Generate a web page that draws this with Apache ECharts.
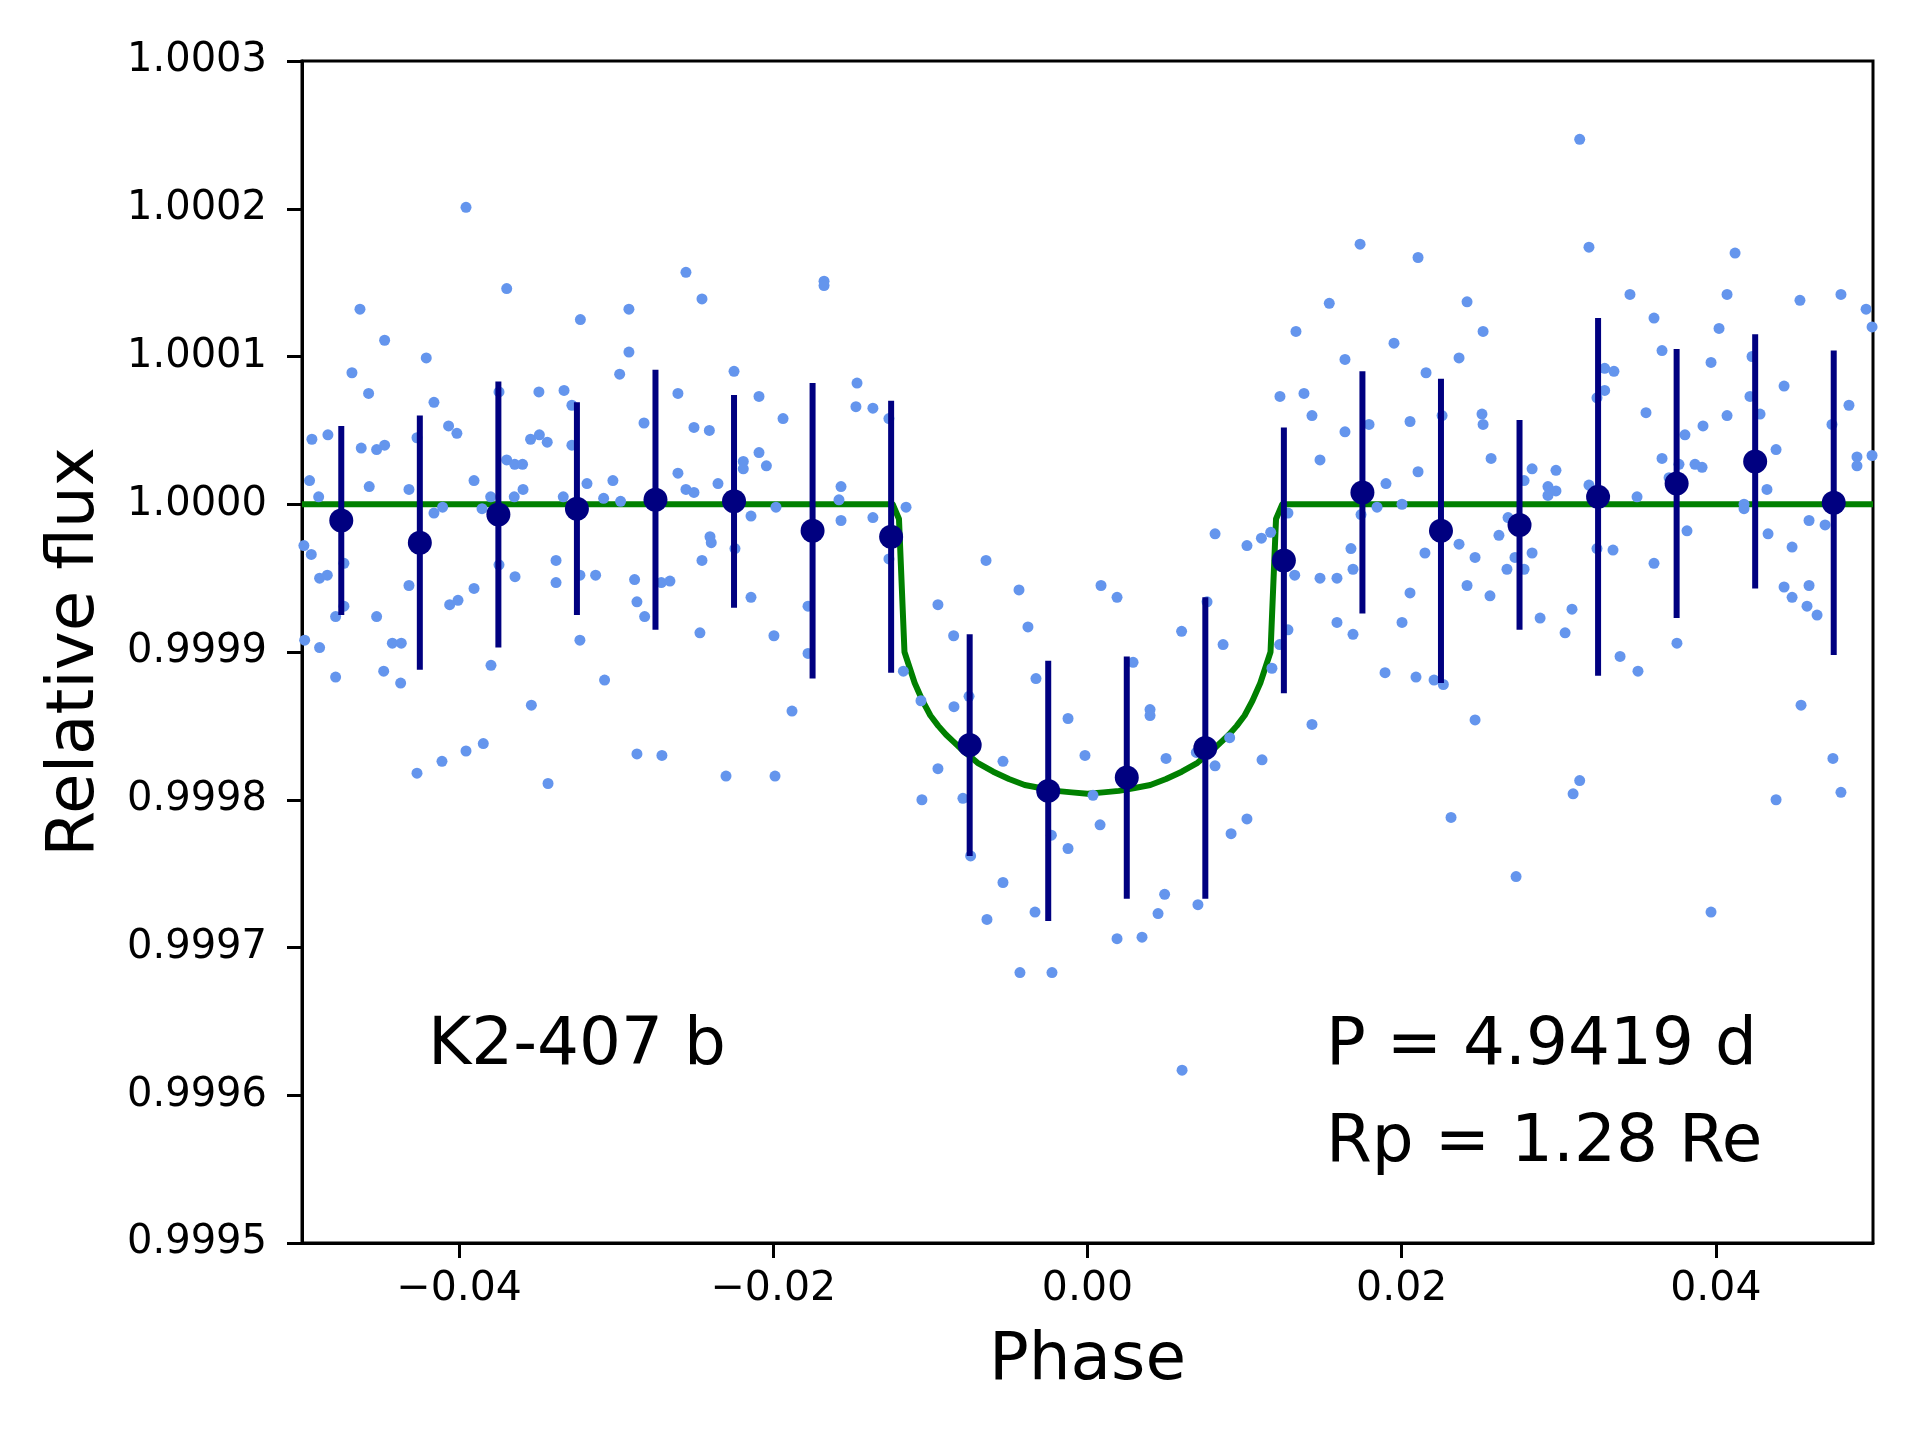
<!DOCTYPE html>
<html>
<head>
<meta charset="utf-8">
<title>K2-407 b</title>
<script src="https://cdn.jsdelivr.net/npm/echarts@6/dist/echarts.min.js"></script>
<style>
  html, body { margin: 0; padding: 0; background: #fff; }
  #chart { width: 1920px; height: 1440px; }
</style>
</head>
<body>
<div id="chart"></div>
<script>
// flux values are kept as ppm offsets from 1.0, the axis labels show relative flux
const xTicks = [-0.04, -0.02, 0.0, 0.02, 0.04];

// unbinned photometry [phase, ppm]
const samples = [
  [-0.04988, -28], [-0.04941, -34], [-0.04952, 16], [-0.04937, 44], [-0.04894, 5],
  [-0.04888, -50], [-0.04839, -48], [-0.04835, 47], [-0.04983, -92], [-0.04888, -97],
  [-0.04786, -117], [-0.04786, -76], [-0.04733, -40], [-0.04733, -69], [-0.04682, 89],
  [-0.04631, 132], [-0.04623, 38], [-0.04576, 75], [-0.04572, 12], [-0.04525, -76],
  [-0.04525, 37], [-0.04474, 40], [-0.04474, 111], [-0.04480, -113], [-0.04425, -94],
  [-0.04368, -94], [-0.04372, -121], [-0.04319, 10], [-0.04319, -55], [-0.04268, 45],
  [-0.04268, -182], [-0.04209, 99], [-0.04160, 69], [-0.04160, -6], [-0.04109, -174],
  [-0.04105, -2], [-0.04067, 53], [-0.04014, 48], [-0.04060, -68], [-0.04007, -65],
  [-0.03956, -167], [-0.03956, 201], [-0.03905, 16], [-0.03905, -57], [-0.03854, -3],
  [-0.03846, -162], [-0.03799, 5], [-0.03797, -109], [-0.03746, -41], [-0.03746, 76],
  [-0.03697, 146], [-0.03697, 30], [-0.03646, 27], [-0.03596, 27], [-0.03649, 5],
  [-0.03593, 10], [-0.03644, -49], [-0.03545, 44], [-0.03489, 47], [-0.03492, 76],
  [-0.03439, 42], [-0.03540, -136], [-0.03434, -189], [-0.03383, -38], [-0.03383, -53],
  [-0.03332, 77], [-0.03282, 67], [-0.03282, 40], [-0.03337, 5], [-0.03228, 125],
  [-0.03186, 14], [-0.03231, -48], [-0.03231, -92], [-0.03131, -48], [-0.03074, -119],
  [-0.03080, 4], [-0.03021, 16], [-0.02972, 2], [-0.02978, 88],
  [-0.02919, 132], [-0.02919, 103], [-0.02823, 55], [-0.02883, -51], [-0.02868, -66],
  [-0.02819, -76], [-0.02713, -53], [-0.02658, -52], [-0.02607, 75], [-0.02607, 21],
  [-0.02556, 157], [-0.02556, 10], [-0.02505, 52], [-0.02505, 8], [-0.02454, 139],
  [-0.02407, 50], [-0.02454, -38], [-0.02403, -22], [-0.02395, -26], [-0.02467, -87],
  [-0.02352, 14], [-0.02868, -169], [-0.02709, -170], [-0.02301, -184], [-0.02250, 90],
  [-0.02191, 29], [-0.02191, 24], [-0.02244, -30], [-0.02142, -8], [-0.02142, -63],
  [-0.02091, 73], [-0.02091, 35], [-0.02044, 26], [-0.01983, -2], [-0.01996, -89],
  [-0.01989, -184], [-0.01938, 58], [-0.01881, -140], [-0.01779, -69], [-0.01779, -101],
  [-0.01677, 151], [-0.01677, 148], [-0.01569, 12], [-0.01582, 3], [-0.01569, -11],
  [-0.01467, 82], [-0.01474, 66], [-0.01366, 65], [-0.01366, -9], [-0.01264, 58],
  [-0.01264, -37], [-0.01155, -2], [-0.01172, -113], [-0.01060, -133], [-0.00952, -68],
  [-0.00952, -179], [-0.01054, -200],
  [-0.00852, -89], [-0.00850, -137], [-0.00793, -199], [-0.00754, -130], [-0.00744, -238],
  [-0.00646, -38], [-0.00640, -281], [-0.00538, -174], [-0.00538, -256], [-0.00436, -58],
  [-0.00430, -317], [-0.00379, -83], [-0.00328, -118], [-0.00334, -276], [-0.00230, -224],
  [-0.00226, -317], [-0.00124, -145], [-0.00124, -233], [-0.00016, -170], [0.00035, -197],
  [0.00080, -217], [0.00086, -55], [0.00188, -63], [0.00188, -294], [0.00290, -107],
  [0.00347, -293], [0.00398, -139], [0.00398, -143], [0.00449, -277], [0.00491, -264],
  [0.00500, -172], [0.00599, -86], [0.00602, -383], [0.00703, -271], [0.00693, -168],
  [0.00761, -66], [0.00812, -20], [0.00863, -95], [0.00812, -177], [0.00914, -223],
  [0.00905, -158], [0.01015, -28], [0.01015, -213], [0.01107, -23], [0.01111, -173],
  [0.01166, -19], [0.01174, -111], [0.01223, -95], [0.01276, -85], [0.01276, -6],
  [0.01319, -48], [0.01225, 73], [0.01327, 117], [0.01378, 75], [0.01429, 60],
  [0.01429, -149], [0.01480, 30], [0.01480, -50], [0.01539, 136], [0.01588, -50],
  [0.01588, -80], [0.01639, 98], [0.01639, 49], [0.01677, -30], [0.01690, -44],
  [0.01690, -88], [0.01735, 176], [0.01792, 54], [0.01741, -7], [0.01843, -2],
  [0.01900, 14], [0.01894, -114], [0.01951, 109], [0.02002, 0], [0.02002, -80],
  [0.02053, 56], [0.02053, -60], [0.02104, 167], [0.02104, 22], [0.02091, -117],
  [0.02155, 89], [0.02148, -33], [0.02206, -119], [0.02257, 60], [0.02265, -122],
  [0.02314, -212], [0.02365, 99], [0.02365, -27], [0.02416, 137], [0.02416, -55],
  [0.02467, -36], [0.02467, -146], [0.02518, 117], [0.02511, 61], [0.02518, 54],
  [0.02562, -62], [0.02569, 31], [0.02619, -21], [0.02670, -44], [0.02677, -9],
  [0.02721, -36], [0.02728, -252], [0.02779, 16], [0.02779, -44], [0.02830, 24],
  [0.02830, -33], [0.02881, -77], [0.02931, 12], [0.02931, 6], [0.02982, 23],
  [0.02982, 9], [0.03040, -87], [0.03084, -71], [0.03091, -196], [0.03133, -187],
  [0.03133, 247],
  [0.03192, 174], [0.03192, 13], [0.03243, 72], [0.03292, 92], [0.03351, 90],
  [0.03292, 77], [0.03243, -30], [0.03345, -31], [0.03390, -103], [0.03453, 142],
  [0.03498, 5], [0.03504, -113], [0.03555, 62], [0.03606, 126], [0.03606, -40],
  [0.03657, 104], [0.03657, 31], [0.03702, 18], [0.03765, 27], [0.03803, 47],
  [0.03816, -18], [0.03752, -94], [0.03867, 27], [0.03918, 53], [0.03912, 25],
  [0.03969, 96], [0.03969, -276], [0.04020, 119], [0.04071, 142], [0.04071, 60],
  [0.04122, 170], [0.04179, 0], [0.04179, -3], [0.04230, 100], [0.04217, 73],
  [0.04281, 61], [0.04325, 10], [0.04332, -20], [0.04383, 37], [0.04383, -200],
  [0.04434, 80], [0.04434, -56], [0.04485, -29], [0.04485, -63], [0.04535, 138],
  [0.04542, -136], [0.04580, -69], [0.04593, -11], [0.04593, -55], [0.04644, -75],
  [0.04695, -14], [0.04739, 54], [0.04745, -172], [0.04796, 142], [0.04796, -195],
  [0.04847, 67], [0.04898, 32], [0.04898, 26], [0.04956, 132], [0.04994, 120],
  [0.04994, 33]
];

// binned points
const binPhase = [-0.0475, -0.0425, -0.0375, -0.0325, -0.0275, -0.0225, -0.0175, -0.0125, -0.0075, -0.0025,
                  0.0025, 0.0075, 0.0125, 0.0175, 0.0225, 0.0275, 0.0325, 0.0375, 0.0425, 0.0475];
const binFlux = [-11, -26, -7, -3, 3, 2, -18, -22, -163, -194,
                 -185, -165, -38, 8, -18, -14, 5, 14, 29, 1];
const binErr = [64, 86, 90, 72, 88, 72, 100, 92, 75, 88,
                82, 102, 90, 82, 103, 71, 121, 91, 86, 103];

// transit model
const modelPhase = [-0.05, -0.0124, -0.0120, -0.01165, -0.0110, -0.0105, -0.0100, -0.0095, -0.0090, -0.0085,
                    -0.0080, -0.0070, -0.0060, -0.0050, -0.0040, -0.0030, -0.0020, -0.0010, 0.0,
                    0.0010, 0.0020, 0.0030, 0.0040, 0.0050, 0.0060, 0.0070, 0.0080, 0.0085, 0.0090,
                    0.0095, 0.0100, 0.0105, 0.0110, 0.01165, 0.0120, 0.0124, 0.05];
const modelFlux = [0, 0, -10, -100, -121, -133, -143, -150, -156, -161,
                   -166, -175, -181, -186, -190, -192, -194, -195, -196,
                   -195, -194, -192, -190, -186, -181, -175, -166, -161, -156,
                   -150, -143, -133, -121, -100, -10, 0, 0];

const FONT = 'DejaVu Sans';

const chart = echarts.init(document.getElementById('chart'), null, { renderer: 'canvas' });

function fluxLabel(v) {
  return (1 + v / 1e6).toFixed(4);
}
function phaseLabel(v) {
  return v.toFixed(2).replace('-', '\u2212');
}

const option = {
  backgroundColor: '#ffffff',
  animation: false,
  grid: {
    left: 302, right: 47, top: 61, bottom: 197,
    show: true, borderColor: '#000', borderWidth: 3, backgroundColor: 'transparent'
  },
  xAxis: {
    type: 'value',
    min: -0.05, max: 0.05,
    name: 'Phase',
    nameLocation: 'middle',
    nameGap: 86,
    nameTextStyle: { fontFamily: FONT, fontSize: 66, color: '#000' },
    axisLine: { show: true, onZero: false, lineStyle: { color: '#000', width: 3 } },
    axisTick: { show: true, inside: false, length: 15, customValues: xTicks, lineStyle: { color: '#000', width: 3 } },
    axisLabel: { customValues: xTicks, margin: 26, fontFamily: FONT, fontSize: 41, color: '#000', formatter: phaseLabel },
    splitLine: { show: false }
  },
  yAxis: {
    type: 'value',
    min: -500, max: 300, interval: 100,
    name: 'Relative flux',
    nameLocation: 'middle',
    nameRotate: 90,
    nameGap: 193,
    nameTextStyle: { fontFamily: FONT, fontSize: 66, color: '#000' },
    axisLine: { show: true, onZero: false, lineStyle: { color: '#000', width: 3 } },
    axisTick: { show: true, inside: false, length: 15, lineStyle: { color: '#000', width: 3 } },
    axisLabel: { margin: 35, fontFamily: FONT, fontSize: 40, color: '#000', formatter: fluxLabel },
    splitLine: { show: false }
  },
  series: [
    {
      name: 'model',
      type: 'line',
      data: modelPhase.map((p, i) => [p, modelFlux[i]]),
      showSymbol: false,
      lineStyle: { color: '#008000', width: 6, join: 'round' },
      z: 1
    },
    {
      name: 'data',
      type: 'scatter',
      data: samples,
      symbolSize: 11,
      itemStyle: { color: '#6495ED', opacity: 1 },
      z: 2
    },
    {
      name: 'errors',
      type: 'custom',
      data: binPhase.map((p, i) => [p, binFlux[i], binErr[i]]),
      renderItem(params, api) {
        const x = api.value(0);
        const y = api.value(1);
        const e = api.value(2);
        const top = api.coord([x, y + e]);
        const bot = api.coord([x, y - e]);
        return {
          type: 'line',
          shape: { x1: top[0], y1: top[1], x2: bot[0], y2: bot[1] },
          style: { stroke: '#000080', lineWidth: 6 }
        };
      },
      z: 3
    },
    {
      name: 'binned',
      type: 'scatter',
      data: binPhase.map((p, i) => [p, binFlux[i]]),
      symbolSize: 24,
      itemStyle: { color: '#000080', opacity: 1 },
      z: 4
    }
  ],
  graphic: [
    { type: 'text', left: 428, top: 1014, style: { text: 'K2-407 b', font: '66px "DejaVu Sans"', fill: '#000' } },
    { type: 'text', left: 1326, top: 1014, style: { text: 'P = 4.9419 d', font: '66px "DejaVu Sans"', fill: '#000' } },
    { type: 'text', left: 1326, top: 1111, style: { text: 'Rp = 1.28 Re', font: '66px "DejaVu Sans"', fill: '#000' } }
  ]
};

chart.setOption(option);
</script>
</body>
</html>
